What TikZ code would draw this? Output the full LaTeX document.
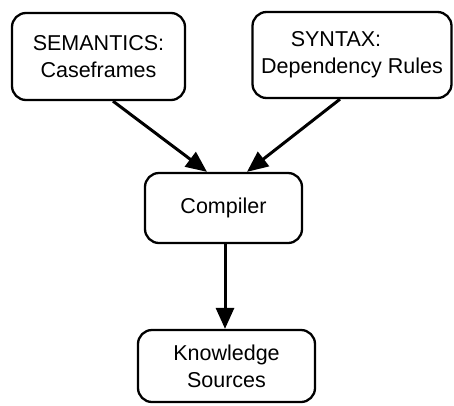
\documentclass[tikz,border=0pt]{standalone}
\usepackage{fontspec}
\setmainfont{Liberation Sans}
\usetikzlibrary{arrows.meta,calc}

\begin{document}
\begin{tikzpicture}[x=1pt,y=-1pt,
  box/.style={draw, line width=2.3pt, rounded corners=14pt, inner sep=0pt,
              align=center, font=\fontsize{21.5}{27}\selectfont},
  flow/.style={line width=3pt, -{Triangle[width=18pt,length=21pt]}}]
  \useasboundingbox (0,0) rectangle (454,405);

  % sources of the compiler
  \node[box, minimum width=173pt, minimum height=87pt] (sem) at (98.5,56.5)
    {SEMANTICS:\\Caseframes};
  \node[box, minimum width=199pt, minimum height=86pt] (syn) at (352,55)
    {\hspace*{-32pt}SYNTAX:\\Dependency Rules};

  % compiler and its output
  \node[box, minimum width=157pt, minimum height=70pt] (comp) at (223.5,208)
    {Compiler};
  \node[box, minimum width=177pt, minimum height=72pt] (ks) at (226.5,366)
    {Knowledge\\Sources};

  % connectors
  \draw[flow] ($(sem.south)+(14.5,0)$) -- ($(comp.north)+(-16.5,0)$);
  \draw[flow] ($(syn.south)+(-12,0)$) -- ($(comp.north)+(23.5,0)$);
  \draw[flow] ($(comp.south)+(1.5,0)$) -- ($(ks.north)+(-1.5,0)$);
\end{tikzpicture}
\end{document}
